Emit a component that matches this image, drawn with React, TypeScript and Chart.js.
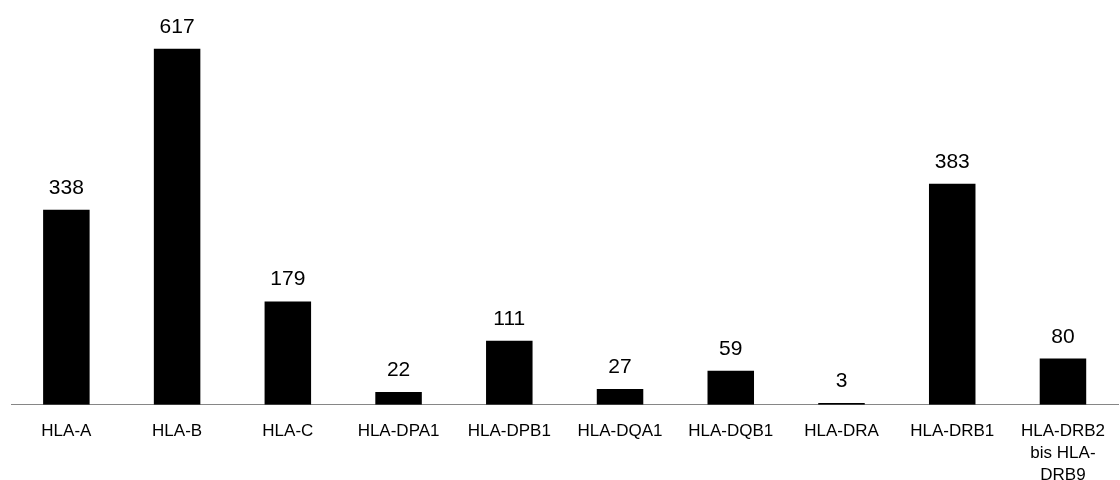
import React, { useEffect, useRef } from "react";
import { Chart, registerables, Plugin } from "chart.js";

Chart.register(...registerables);

// HLA gene categories and their counts
const categories: (string | string[])[] = [
  "HLA-A",
  "HLA-B",
  "HLA-C",
  "HLA-DPA1",
  "HLA-DPB1",
  "HLA-DQA1",
  "HLA-DQB1",
  "HLA-DRA",
  "HLA-DRB1",
  ["HLA-DRB2", "bis HLA-", "DRB9"],
];
const counts: number[] = [338, 617, 179, 22, 111, 27, 59, 3, 383, 80];
const yMax = 700;

const FONT = "'Liberation Sans', Arial, Helvetica, sans-serif";

// Writes each bar's value just above its top
const valueLabels: Plugin<"bar"> = {
  id: "valueLabels",
  afterDatasetsDraw(chart) {
    const ctx = chart.ctx;
    const meta = chart.getDatasetMeta(0);
    const values = chart.data.datasets[0].data as number[];
    ctx.save();
    ctx.font = `21px ${FONT}`;
    ctx.fillStyle = "#000000";
    ctx.textAlign = "center";
    ctx.textBaseline = "alphabetic";
    meta.data.forEach((bar, i) => {
      const { x, y } = bar.getProps(["x", "y"], true) as { x: number; y: number };
      ctx.fillText(String(values[i]), x, y - 16);
    });
    ctx.restore();
  },
};

export default function App() {
  const canvasRef = useRef<HTMLCanvasElement | null>(null);

  useEffect(() => {
    if (!canvasRef.current) return;
    const chart = new Chart(canvasRef.current, {
      type: "bar",
      data: {
        labels: categories,
        datasets: [
          {
            data: counts,
            backgroundColor: "#000000",
            borderWidth: 0,
            barPercentage: 1,
            categoryPercentage: 0.42,
          },
        ],
      },
      options: {
        responsive: false,
        animation: false,
        layout: { padding: { top: 1, left: 11, right: 0, bottom: 0 } },
        plugins: {
          legend: { display: false },
          tooltip: { enabled: false },
        },
        scales: {
          x: {
            grid: { display: false, drawTicks: false },
            border: { display: true, color: "#868686", width: 1 },
            ticks: {
              color: "#000000",
              padding: 15,
              maxRotation: 0,
              autoSkip: false,
              font: { family: FONT, size: 17, lineHeight: 1.32 },
            },
          },
          y: {
            display: false,
            min: 0,
            max: yMax,
          },
        },
      },
      plugins: [valueLabels],
    });
    return () => chart.destroy();
  }, []);

  return (
    <div
      style={{
        position: "fixed",
        left: 0,
        top: 0,
        width: 1120,
        height: 480,
        overflow: "hidden",
        background: "#ffffff",
      }}
    >
      <canvas ref={canvasRef} width={1120} height={502} style={{ display: "block" }} />
    </div>
  );
}
